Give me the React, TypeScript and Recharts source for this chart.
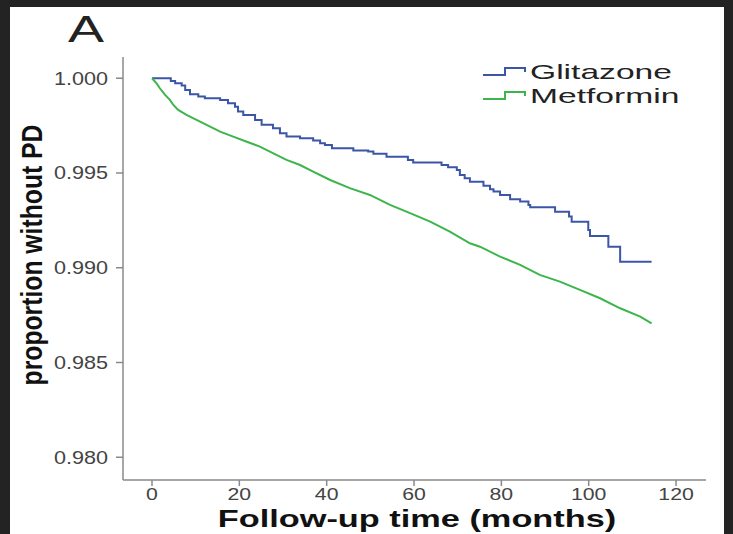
import React from "react";
import { LineChart, Line, XAxis, YAxis } from "recharts";

// Kaplan-Meier style readings (months, proportion without PD)
const glitazoneMonths = [
  0, 4.3, 5.3, 6.8, 7.6, 8.7, 10.6, 12.1, 15.6, 17.4, 19.0, 19.7, 20.9, 23.6, 25.1, 27.7, 29.3, 30.8,
  33.9, 36.9, 38.5, 39.6, 41.2, 46.1, 49.5, 50.7, 53.7, 58.6, 59.8, 66.3, 67.8, 69.8, 70.5, 71.6,
  72.8, 75.9, 77.4, 78.2, 79.7, 82.0, 84.3, 86.2, 86.6, 92.3, 95.5, 96.1, 99.9, 100.3, 104.5, 107.2, 114.4,
];
const glitazoneSurvival = [
  1.0, 0.99986, 0.99974, 0.99961, 0.99938, 0.99916, 0.99903, 0.99894, 0.99885, 0.99868, 0.9985, 0.99824,
  0.99806, 0.9978, 0.99754, 0.99736, 0.9971, 0.99692, 0.99683, 0.99672, 0.99657, 0.99648, 0.99631,
  0.99618, 0.99613, 0.99601, 0.99586, 0.99569, 0.99555, 0.99542, 0.9953, 0.99516, 0.9949, 0.99472,
  0.99454, 0.99432, 0.99414, 0.99402, 0.99384, 0.99361, 0.99349, 0.99331, 0.99319, 0.99296, 0.9927,
  0.99243, 0.99199, 0.99168, 0.99111, 0.99032, 0.99032,
];

const metforminMonths = [
  0, 1.0, 1.8, 3.0, 4.1, 4.9, 6.0, 7.9, 10.2, 12.5, 15.6, 18.6, 21.7, 24.7, 27.8, 30.8, 33.9, 36.9,
  40.8, 45.3, 49.9, 54.5, 59.1, 63.7, 68.2, 72.8, 75.1, 79.7, 84.3, 88.8, 93.4, 98.0, 102.6, 107.2,
  111.8, 114.4,
];
const metforminSurvival = [
  1.0, 0.99974, 0.99947, 0.99912, 0.99886, 0.99859, 0.99833, 0.99807, 0.9978, 0.99754, 0.99718,
  0.99692, 0.99665, 0.99639, 0.99604, 0.99569, 0.99542, 0.99507, 0.99463, 0.9942, 0.99384, 0.99332,
  0.99288, 0.99243, 0.9919, 0.99129, 0.99111, 0.99059, 0.99015, 0.98962, 0.98927, 0.98883, 0.98839,
  0.98786, 0.98742, 0.98707,
];

const xTicks = [0, 20, 40, 60, 80, 100, 120];
const yTicks = [0.98, 0.985, 0.99, 0.995, 1.0];

const glitazoneData = glitazoneMonths.map((t, i) => ({ t, v: glitazoneSurvival[i] }));
const metforminData = metforminMonths.map((t, i) => ({ t, v: metforminSurvival[i] }));

const FONT = "'Liberation Sans', Arial, Helvetica, sans-serif";
const AXIS = "#8a8a8a";
const BLUE = "#3b56a6";
const GREEN = "#3cb54a";

const series = [
  { name: "Glitazone", color: BLUE },
  { name: "Metformin", color: GREEN },
];

const XTick = ({ x, y, payload }: any) => (
  <g transform={`translate(${x},${y})`}>
    <text dy="0.71em" textAnchor="middle" transform="scale(1.25,1)" fontSize={17} fill="#444" fontFamily={FONT}>
      {payload.value}
    </text>
  </g>
);

const YTick = ({ x, y, payload }: any) => (
  <g transform={`translate(${x},${y})`}>
    <text dy="0.355em" textAnchor="end" transform="scale(1.2,1)" fontSize={18} fill="#444" fontFamily={FONT}>
      {Number(payload.value).toFixed(3)}
    </text>
  </g>
);

const StepLegend = () => (
  <div style={{ position: "absolute", left: 483, top: 60 }}>
    {series.map((item) => (
      <div key={item.name} style={{ display: "flex", alignItems: "center", height: 24 }}>
        <svg width={46} height={14} style={{ display: "block" }}>
          <polyline points="0,10 22,10 22,3 42,3 42,7" fill="none" stroke={item.color} strokeWidth={2} />
        </svg>
        <span
          style={{
            fontFamily: FONT,
            fontSize: 21,
            color: "#222",
            display: "inline-block",
            transform: "scaleX(1.6)",
            transformOrigin: "left center",
            lineHeight: "22px",
            marginLeft: 1,
          }}
        >
          {item.name}
        </span>
      </div>
    ))}
  </div>
);

export default function App() {
  return (
    <div style={{ position: "relative", width: 733, height: 534, background: "#232323", overflow: "hidden" }}>
      <style>{"body{margin:0}"}</style>
      <div style={{ position: "absolute", left: 10, top: 7, width: 714, height: 527, background: "#fff" }} />

      <div
        style={{
          position: "absolute",
          left: 68,
          top: 8,
          fontFamily: FONT,
          fontSize: 36,
          color: "#222",
          transform: "scaleX(1.5)",
          transformOrigin: "left top",
          lineHeight: "44px",
        }}
      >
        A
      </div>

      <div style={{ position: "absolute", left: 0, top: 0 }}>
        <LineChart width={733} height={534} margin={{ top: 57, right: 27, bottom: 24, left: 63 }}>
          <XAxis
            type="number"
            dataKey="t"
            domain={[-6.64, 126.86]}
            ticks={xTicks}
            allowDataOverflow
            height={30}
            stroke={AXIS}
            strokeWidth={1.5}
            tickSize={6}
            tickMargin={2}
            tick={<XTick />}
          />
          <YAxis
            type="number"
            dataKey="v"
            domain={[0.9788, 1.00112]}
            ticks={yTicks}
            allowDataOverflow
            width={60}
            stroke={AXIS}
            strokeWidth={1.5}
            tickSize={7}
            tickMargin={8}
            tick={<YTick />}
          />
          <Line
            data={glitazoneData}
            dataKey="v"
            name="Glitazone"
            type="stepAfter"
            stroke={BLUE}
            strokeWidth={2}
            dot={false}
            isAnimationActive={false}
          />
          <Line
            data={metforminData}
            dataKey="v"
            name="Metformin"
            type="linear"
            stroke={GREEN}
            strokeWidth={2}
            dot={false}
            isAnimationActive={false}
          />
        </LineChart>
      </div>

      <StepLegend />

      <div
        style={{
          position: "absolute",
          left: 32,
          top: 255,
          fontFamily: FONT,
          fontWeight: 700,
          fontSize: 24,
          color: "#111",
          whiteSpace: "nowrap",
          transform: "translate(-50%, -50%) rotate(-90deg) scale(1.03, 1.2)",
        }}
      >
        proportion without PD
      </div>

      <div
        style={{
          position: "absolute",
          left: 417,
          top: 519,
          fontFamily: FONT,
          fontWeight: 700,
          fontSize: 24,
          lineHeight: "24px",
          color: "#111",
          whiteSpace: "nowrap",
          transform: "translate(-50%, -50%) scaleX(1.43)",
        }}
      >
        Follow-up time (months)
      </div>
    </div>
  );
}
